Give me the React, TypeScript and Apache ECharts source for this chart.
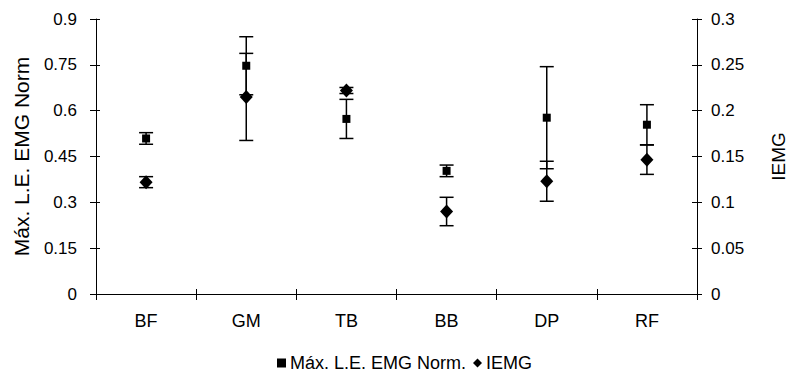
import React, { useEffect, useRef } from "react";
import * as echarts from "echarts";

const categories = ["BF", "GM", "TB", "BB", "DP", "RF"];
const maxEmgNorm = [0.509, 0.747, 0.573, 0.403, 0.577, 0.554];
const maxEmgNormErr = [0.019, 0.095, 0.064, 0.019, 0.167, 0.0655];
const iemg = [0.122, 0.215, 0.222, 0.09, 0.123, 0.1465];
const iemgErr = [0.006, 0.0475, 0.0033, 0.0155, 0.0218, 0.016];

const leftName = "Máx. L.E. EMG Norm";
const rightName = "IEMG";
const s1Name = "Máx. L.E. EMG Norm.";
const s2Name = "IEMG";

const FONT = "'Liberation Sans', Arial, sans-serif";

function errRender(params: any, api: any) {
  const x = api.value(0);
  const y = api.value(1);
  const e = api.value(2);
  const top = api.coord([x, y + e]);
  const bot = api.coord([x, y - e]);
  const hw = 7;
  const st = { stroke: "#000", lineWidth: 1.5 };
  return {
    type: "group",
    children: [
      { type: "line", shape: { x1: top[0], y1: top[1], x2: bot[0], y2: bot[1] }, style: st },
      { type: "line", shape: { x1: top[0] - hw, y1: top[1], x2: top[0] + hw, y2: top[1] }, style: st },
      { type: "line", shape: { x1: bot[0] - hw, y1: bot[1], x2: bot[0] + hw, y2: bot[1] }, style: st },
    ],
  };
}

const fmt = (v: number) => String(Math.round(v * 100) / 100);

export default function App() {
  const ref = useRef<HTMLDivElement>(null);
  useEffect(() => {
    const chart = echarts.init(ref.current!, null, { renderer: "svg" });
    const axisLine = { show: true, lineStyle: { color: "#000", width: 1 } };
    const labelStyle = { color: "#000", fontSize: 17, fontFamily: FONT };
    chart.setOption({
      animation: false,
      backgroundColor: "#fff",
      grid: { left: 96, right: 78, top: 19, bottom: 83 },
      legend: {
        data: [
          { name: s1Name, icon: "rect" },
          { name: s2Name, icon: "diamond" },
        ],
        bottom: 0,
        left: 272,
        itemWidth: 9,
        itemHeight: 9,
        itemGap: 7,
        textStyle: { color: "#000", fontSize: 18, fontFamily: FONT, padding: [0, 0, 0, -1] },
      },
      xAxis: [
        {
          type: "category",
          data: categories,
          position: "bottom",
          axisLine,
          axisTick: { show: true, length: 6, lineStyle: { color: "#000" } },
          axisLabel: { ...labelStyle, fontSize: 18, margin: 18 },
          splitLine: { show: false },
        },
        {
          type: "category",
          data: categories,
          position: "bottom",
          axisLine: { show: false },
          axisTick: { show: true, inside: true, length: 5, lineStyle: { color: "#000" } },
          axisLabel: { show: false },
          splitLine: { show: false },
        },
      ],
      yAxis: [
        {
          type: "value",
          position: "left",
          min: 0,
          max: 0.9,
          interval: 0.15,
          name: leftName,
          nameLocation: "middle",
          nameRotate: 90,
          nameGap: 64,
          nameTextStyle: { color: "#000", fontSize: 21, fontFamily: FONT },
          axisLine,
          axisTick: { show: true, length: 6, lineStyle: { color: "#000" } },
          axisLabel: { ...labelStyle, margin: 19, formatter: fmt },
          splitLine: { show: false },
        },
        {
          type: "value",
          position: "right",
          min: 0,
          max: 0.3,
          interval: 0.05,
          name: rightName,
          nameLocation: "middle",
          nameRotate: 90,
          nameGap: 72,
          nameTextStyle: { color: "#000", fontSize: 19, fontFamily: FONT },
          axisLine,
          axisTick: { show: true, length: 5, lineStyle: { color: "#000" } },
          axisLabel: { ...labelStyle, margin: 14, formatter: fmt },
          splitLine: { show: false },
        },
        {
          type: "value",
          position: "left",
          min: 0,
          max: 0.9,
          interval: 0.15,
          axisLine: { show: false },
          axisTick: { show: true, inside: true, length: 4, lineStyle: { color: "#000" } },
          axisLabel: { show: false },
          splitLine: { show: false },
        },
        {
          type: "value",
          position: "right",
          min: 0,
          max: 0.3,
          interval: 0.05,
          axisLine: { show: false },
          axisTick: { show: true, inside: true, length: 5, lineStyle: { color: "#000" } },
          axisLabel: { show: false },
          splitLine: { show: false },
        },
      ],
      series: [
        {
          name: "errMax",
          type: "custom",
          xAxisIndex: 0,
          yAxisIndex: 0,
          renderItem: errRender,
          encode: { x: 0, y: 1 },
          data: categories.map((_, i) => [i, maxEmgNorm[i], maxEmgNormErr[i]]),
          z: 1,
        },
        {
          name: "errIemg",
          type: "custom",
          xAxisIndex: 0,
          yAxisIndex: 1,
          renderItem: errRender,
          encode: { x: 0, y: 1 },
          data: categories.map((_, i) => [i, iemg[i], iemgErr[i]]),
          z: 1,
        },
        {
          name: s1Name,
          type: "scatter",
          xAxisIndex: 0,
          yAxisIndex: 0,
          symbol: "rect",
          symbolSize: 8,
          itemStyle: { color: "#000", opacity: 1 },
          data: maxEmgNorm,
          z: 3,
        },
        {
          name: s2Name,
          type: "scatter",
          xAxisIndex: 0,
          yAxisIndex: 1,
          symbol: "diamond",
          symbolSize: [13, 14],
          itemStyle: { color: "#000", opacity: 1 },
          data: iemg,
          z: 3,
        },
      ],
    });
    return () => chart.dispose();
  }, []);
  return (
    <div
      ref={ref}
      style={{ position: "fixed", left: 0, top: 0, width: 796, height: 377, background: "#fff" }}
    />
  );
}
